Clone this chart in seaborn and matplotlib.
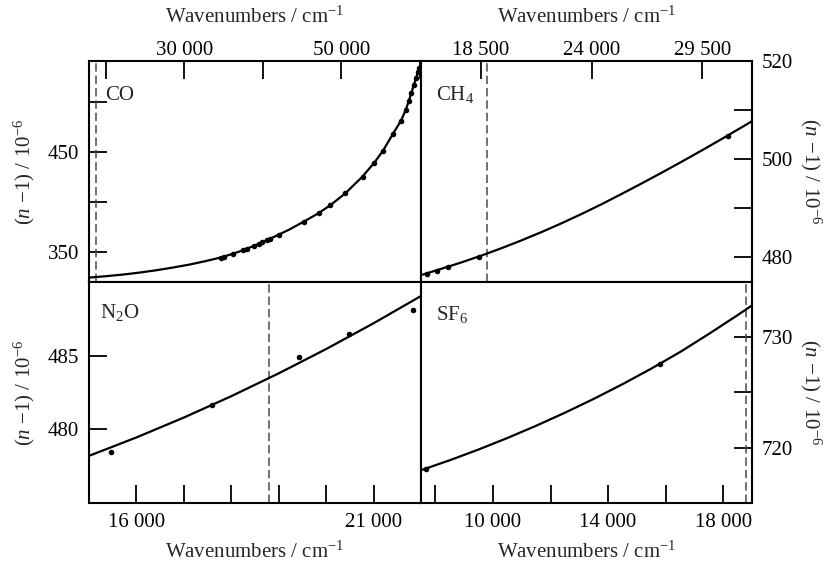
import matplotlib
matplotlib.use("Agg")
import matplotlib.pyplot as plt
import pandas as pd
import seaborn as sns

# ---------------- data ----------------
laser_wn = 18797  # dashed reference line (cm^-1)

# CO
co_pts_wn = [34710, 35000, 36150, 37520, 37990, 38920, 39550, 39900, 40530, 40960,
             42010, 45200, 47110, 48600, 50510, 52700, 54200, 55310, 56540, 57600,
             58200, 58570, 58920, 59210, 59510, 59770, 59940]
co_pts_n = [344.3, 345.0, 348.2, 351.7, 353.3, 355.8, 358.2, 359.6, 361.7, 362.9,
            366.8, 380.3, 388.9, 396.8, 408.7, 425.5, 439.3, 451.3, 467.7, 481.3,
            492.3, 501.0, 509.5, 516.8, 523.7, 530.3, 533.7]
co_fit_wn = [17850, 20000, 22140, 24270, 26390, 28500, 30640, 32760, 34880, 37000,
             39130, 41250, 43380, 45200, 47110, 48600, 50510, 52640, 54200, 55310,
             56540, 57600, 58200, 58570, 58920, 59210, 59510, 59770, 59940, 60150]
co_fit_n = [324.4, 325.8, 327.4, 329.4, 331.7, 334.4, 337.4, 341.0, 345.0, 350.4,
            357.0, 364.5, 372.5, 380.3, 388.9, 396.8, 408.7, 425.0, 439.3, 451.3,
            467.7, 481.3, 492.0, 500.5, 509.0, 516.5, 523.7, 530.0, 534.0, 538.5]

# CH4
ch4_pts_wn = [15816, 16330, 16845, 18400, 30760]
ch4_pts_n = [476.7, 477.3, 477.96, 480.0, 504.7]
ch4_fit_wn = [15520, 16500, 17500, 18500, 19500, 20500, 21500, 22500, 23500, 24500,
              25500, 26500, 27500, 28500, 29500, 30500, 31500, 31970]
ch4_fit_n = [476.4, 477.65, 478.95, 480.35, 481.85, 483.45, 485.15, 486.95, 488.85, 490.85,
             492.95, 495.1, 497.3, 499.55, 501.85, 504.2, 506.6, 507.75]

# N2O
n2o_pts_wn = [15458, 17593, 19426, 20480, 21828]
n2o_pts_n = [478.45, 481.66, 484.88, 486.5, 488.1]
n2o_fit_wn = [15000, 16000, 17000, 18000, 19000, 20000, 21000, 22000]
n2o_fit_n = [478.2, 479.45, 480.8, 482.25, 483.8, 485.45, 487.2, 489.05]

# SF6
sf6_pts_wn = [7670, 15790]
sf6_pts_n = [718.06, 727.6]
sf6_fit_wn = [7500, 8500, 9500, 10500, 11500, 12500, 13500, 14500, 15500, 16500,
              17500, 18500, 19000]
sf6_fit_n = [717.97, 718.87, 719.84, 720.88, 721.99, 723.17, 724.42, 725.75, 727.16, 728.66,
             730.3, 732.0, 732.88]

# ticks / labels
co_xticks = [20000, 30000, 40000, 50000, 60000]
co_xlabels = ["", "30 000", "", "50 000", ""]
co_yticks = [350, 400, 450, 500]
co_ylabels = ["350", "", "450", ""]
ch4_xticks = [18500, 24000, 29500]
ch4_xlabels = ["18 500", "24 000", "29 500"]
ch4_yticks = [480, 490, 500, 510, 520]
ch4_ylabels = ["480", "", "500", "", "520"]
n2o_xticks = [15000, 16000, 17000, 18000, 19000, 20000, 21000, 22000]
n2o_xlabels = ["", "16 000", "", "", "", "", "21 000", ""]
n2o_yticks = [475, 480, 485, 490]
n2o_ylabels = ["", "480", "485", ""]
sf6_xticks = [8000, 10000, 12000, 14000, 16000, 18000]
sf6_xlabels = ["", "10 000", "", "14 000", "", "18 000"]
sf6_yticks = [715, 720, 725, 730, 735]
sf6_ylabels = ["", "720", "", "730", ""]

gas_names = ["CO", "CH$_4$", "N$_2$O", "SF$_6$"]

# ---------------- style ----------------
sns.set_theme(style="ticks")
plt.rcParams["font.family"] = ["Liberation Serif", "DejaVu Serif"]
plt.rcParams["mathtext.fontset"] = "custom"
plt.rcParams["mathtext.rm"] = "Liberation Serif"
plt.rcParams["mathtext.it"] = "Liberation Serif:italic"
plt.rcParams["mathtext.bf"] = "Liberation Serif:bold"

FS = 15
xlab = "Wavenumbers / cm$^{-1}$"
ylab = "($n$ \u22121) / 10$^{-6}$"

W, H = 826, 564
fig = plt.figure(figsize=(W / 100, H / 100), dpi=100)

xl, xm, xr = 89 / W, 421 / W, 752 / W
yt, ym, yb = 1 - 61 / H, 1 - 282 / H, 1 - 503 / H

ax_co = fig.add_axes([xl, ym, xm - xl, yt - ym])
ax_ch4 = fig.add_axes([xm, ym, xr - xm, yt - ym])
ax_n2o = fig.add_axes([xl, yb, xm - xl, ym - yb])
ax_sf6 = fig.add_axes([xm, yb, xr - xm, ym - yb])

panels = [
    (ax_co, co_pts_wn, co_pts_n, co_fit_wn, co_fit_n, (17850, 60150), (320, 541),
     co_xticks, co_xlabels, co_yticks, co_ylabels, "top", "left", (0.048, 0.824)),
    (ax_ch4, ch4_pts_wn, ch4_pts_n, ch4_fit_wn, ch4_fit_n, (15520, 31970), (475, 520),
     ch4_xticks, ch4_xlabels, ch4_yticks, ch4_ylabels, "top", "right", (0.045, 0.824)),
    (ax_n2o, n2o_pts_wn, n2o_pts_n, n2o_fit_wn, n2o_fit_n, (15000, 22000), (475, 490),
     n2o_xticks, n2o_xlabels, n2o_yticks, n2o_ylabels, "bottom", "left", (0.033, 0.837)),
    (ax_sf6, sf6_pts_wn, sf6_pts_n, sf6_fit_wn, sf6_fit_n, (7500, 19000), (715, 735),
     sf6_xticks, sf6_xlabels, sf6_yticks, sf6_ylabels, "bottom", "right", (0.045, 0.828)),
]

for i, (ax, pw, pn, fw, fn, xlim, ylim, xt, xtl, yt_, ytl, xside, yside, lpos) in enumerate(panels):
    fit = pd.DataFrame({"wn": fw, "n": fn})
    pts = pd.DataFrame({"wn": pw, "n": pn})
    ax.axvline(laser_wn, color="#4a4a4a", lw=1.1, dashes=(5.5, 2.6), zorder=1)
    sns.lineplot(data=fit, x="wn", y="n", ax=ax, color="black", lw=1.6, sort=True,
                 estimator=None, zorder=2)
    sns.scatterplot(data=pts, x="wn", y="n", ax=ax, color="black", s=16,
                    linewidth=0, zorder=3)
    ax.set_xlim(*xlim)
    ax.set_ylim(*ylim)
    ax.set_xticks(xt)
    ax.set_xticklabels(xtl)
    ax.set_yticks(yt_)
    ax.set_yticklabels(ytl)
    for sp in ax.spines.values():
        sp.set_visible(True)
        sp.set_linewidth(1.5)
        sp.set_color("black")
    if xside == "top":
        ax.xaxis.tick_top()
        ax.xaxis.set_label_position("top")
        ax.set_xlabel(xlab, fontsize=FS, labelpad=13)
        ax.tick_params(axis="x", pad=0.8)
    else:
        ax.xaxis.tick_bottom()
        ax.set_xlabel(xlab, fontsize=FS, labelpad=7)
        ax.tick_params(axis="x", pad=7)
    if yside == "right":
        ax.yaxis.tick_right()
        ax.yaxis.set_label_position("right")
        ax.set_ylabel(ylab, fontsize=FS, rotation=270, labelpad=22)
        ax.tick_params(axis="y", pad=7)
    else:
        ax.yaxis.tick_left()
        ax.set_ylabel(ylab, fontsize=FS, labelpad=8)
        ax.tick_params(axis="y", pad=7)
    ax.tick_params(direction="in", length=13, width=1.3, labelsize=FS,
                   colors="black")
    ax.text(lpos[0], lpos[1], gas_names[i], transform=ax.transAxes,
            fontsize=FS, va="baseline", ha="left")
    ax.grid(False)

fig.savefig("out.png", dpi=100)
